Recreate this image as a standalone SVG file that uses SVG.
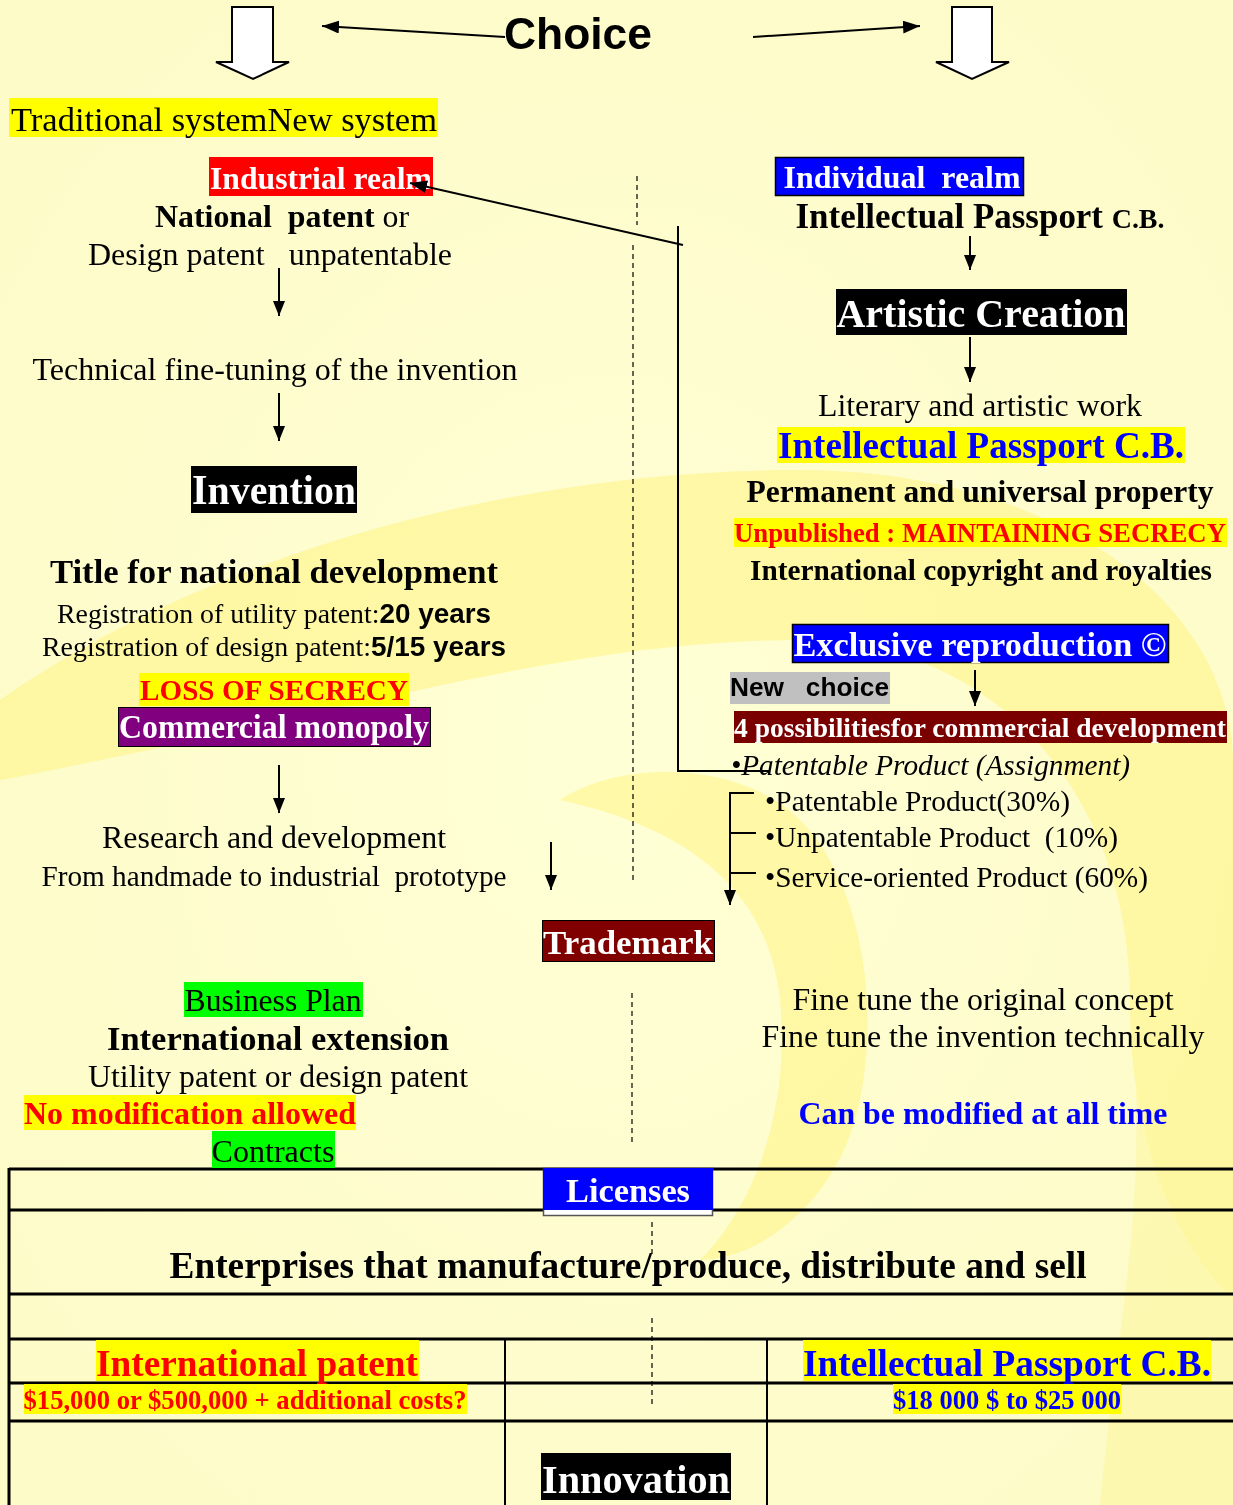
<svg xmlns="http://www.w3.org/2000/svg" width="1233" height="1505" viewBox="0 0 1233 1505">
<defs>
<marker id="ah" markerUnits="userSpaceOnUse" markerWidth="20" markerHeight="16" refX="17" refY="6.5" orient="auto"><path d="M0,0 L17,6.5 L0,13 Z" fill="#000"/></marker>
<marker id="ahs" markerUnits="userSpaceOnUse" markerWidth="18" markerHeight="14" refX="15" refY="6" orient="auto"><path d="M0,0 L15,6 L0,12 Z" fill="#000"/></marker>
<radialGradient id="bgg" cx="0.5" cy="0.5" r="0.6"><stop offset="0" stop-color="#FFFFD6"/><stop offset="1" stop-color="#FDFBC8"/></radialGradient>
</defs>
<style>
.s{font-family:"Liberation Serif","Times New Roman",serif;fill:#000}
.b{font-weight:bold}
.w{fill:#fff}
.a{font-family:"Liberation Sans",Arial,sans-serif;font-weight:bold;fill:#000}
.m{text-anchor:middle}
.ln{stroke:#000;stroke-width:2;fill:none}
.dash{stroke:#000;stroke-width:1.2;stroke-dasharray:5,4;fill:none}
.tb{stroke:#000;stroke-width:3;fill:none}
text{white-space:pre}
</style>
<rect x="0" y="0" width="1233" height="1505" fill="url(#bgg)"/>
<g id="watermark" opacity="0.5">
<path d="M0,700 C200,560 500,470 800,470 C1050,470 1230,600 1233,760 L1233,1300 C1180,1250 1130,1150 1130,1000 C1130,800 1000,640 800,640 C560,640 320,720 0,780 Z" fill="#FFF27A"/>
<path d="M1130,1000 C1130,1150 1180,1250 1233,1300 L1233,1505 L1100,1505 C1120,1300 1150,1200 1130,1000 Z" fill="#FFF27A" opacity="0.6"/>
<path d="M560,800 C620,760 740,760 800,820 C860,880 880,1000 860,1100 C840,1200 760,1260 700,1260 C760,1200 790,1100 780,1000 C770,900 700,830 560,800 Z" fill="#FFF27A"/>
</g>
<g id="table">
<line class="tb" x1="9" y1="1169" x2="1233" y2="1169"/>
<line class="tb" x1="9" y1="1210" x2="1233" y2="1210"/>
<line class="tb" x1="9" y1="1294" x2="1233" y2="1294"/>
<line class="tb" x1="9" y1="1339" x2="1233" y2="1339"/>
<line class="tb" x1="9" y1="1383" x2="1233" y2="1383"/>
<line class="tb" x1="9" y1="1421" x2="1233" y2="1421"/>
<line class="tb" x1="9" y1="1168" x2="9" y2="1505"/>
<line x1="505" y1="1339" x2="505" y2="1505" stroke="#000" stroke-width="2"/>
<line x1="767" y1="1339" x2="767" y2="1505" stroke="#000" stroke-width="2"/>
</g>
<g id="choice"><text class="a m" x="578" y="49" font-size="44" textLength="148" lengthAdjust="spacingAndGlyphs">Choice</text></g>
<g id="systems"><rect x="9" y="98" width="429" height="39" fill="#FFFF00"/><text class="s" x="11" y="131" font-size="34" textLength="426" lengthAdjust="spacingAndGlyphs">Traditional systemNew system</text></g>
<g id="industrial-realm"><rect x="209" y="157" width="224" height="39" fill="#FF0000"/><text class="s b w m" x="321" y="189" font-size="32" textLength="222" lengthAdjust="spacingAndGlyphs">Industrial realm</text></g>
<g id="national-patent"><text class="s m" x="282" y="227" font-size="32" textLength="254" lengthAdjust="spacingAndGlyphs"><tspan class="b">National  patent</tspan> or</text>
<text class="s m" x="270" y="265" font-size="32" textLength="364" lengthAdjust="spacingAndGlyphs">Design patent   unpatentable</text></g>
<g id="technical"><text class="s m" x="275" y="380" font-size="32" textLength="485" lengthAdjust="spacingAndGlyphs">Technical fine-tuning of the invention</text></g>
<g id="invention"><rect x="191" y="466" width="166" height="47" fill="#000"/><text class="s b w m" x="274" y="504" font-size="42" textLength="164" lengthAdjust="spacingAndGlyphs">Invention</text></g>
<g id="title-national"><text class="s b m" x="274" y="583" font-size="33" textLength="448" lengthAdjust="spacingAndGlyphs">Title for national development</text>
<text class="s m" x="274" y="623" font-size="28" textLength="434" lengthAdjust="spacingAndGlyphs">Registration of utility patent:<tspan class="a">20 years</tspan></text>
<text class="s m" x="274" y="656" font-size="28" textLength="464" lengthAdjust="spacingAndGlyphs">Registration of design patent:<tspan class="a">5/15 years</tspan></text></g>
<g id="loss-secrecy"><rect x="139" y="673" width="270" height="33" fill="#FFFF00"/><text class="s b m" x="274" y="700" font-size="29" textLength="268" lengthAdjust="spacingAndGlyphs" style="fill:#FF0000">LOSS OF SECRECY</text></g>
<g id="commercial-monopoly"><rect x="118.5" y="707.5" width="312" height="39" fill="#800080" stroke="#000" stroke-width="1"/><text class="s b w m" x="274" y="738" font-size="33" textLength="310" lengthAdjust="spacingAndGlyphs">Commercial monopoly</text></g>
<g id="research"><text class="s m" x="274" y="848" font-size="32" textLength="344" lengthAdjust="spacingAndGlyphs">Research and development</text>
<text class="s m" x="274" y="886" font-size="29" textLength="465" lengthAdjust="spacingAndGlyphs">From handmade to industrial  prototype</text></g>
<g id="trademark"><rect x="542.5" y="920.5" width="172" height="41" fill="#800000" stroke="#000" stroke-width="1"/><text class="s b w m" x="628" y="954" font-size="34" textLength="170" lengthAdjust="spacingAndGlyphs">Trademark</text></g>
<g id="business-plan"><rect x="184" y="982" width="179" height="35" fill="#00FF00"/><text class="s m" x="273" y="1011" font-size="32" textLength="177" lengthAdjust="spacingAndGlyphs">Business Plan</text></g>
<g id="international-extension"><text class="s b m" x="278" y="1050" font-size="34" textLength="342" lengthAdjust="spacingAndGlyphs">International extension</text>
<text class="s m" x="278" y="1087" font-size="32" textLength="380" lengthAdjust="spacingAndGlyphs">Utility patent or design patent</text></g>
<g id="no-modification"><rect x="24" y="1095" width="332" height="35" fill="#FFFF00"/><text class="s b m" x="190" y="1124" font-size="32" textLength="332" lengthAdjust="spacingAndGlyphs" style="fill:#FF0000">No modification allowed</text></g>
<g id="contracts"><rect x="212" y="1131" width="123" height="37" fill="#00FF00"/><text class="s m" x="273" y="1162" font-size="32" textLength="123" lengthAdjust="spacingAndGlyphs">Contracts</text></g>
<g id="individual-realm"><rect x="775.5" y="157.5" width="248" height="38" fill="#0000FF" stroke="#000" stroke-width="1.5"/><text class="s b w m" x="902" y="188" font-size="32" textLength="237" lengthAdjust="spacingAndGlyphs">Individual  realm</text></g>
<g id="ip-cb-1"><text class="s b m" x="980" y="228" font-size="35" textLength="369" lengthAdjust="spacingAndGlyphs">Intellectual Passport <tspan font-size="28">C.B.</tspan></text></g>
<g id="artistic-creation"><rect x="836" y="289" width="291" height="46" fill="#000"/><text class="s b w m" x="981" y="327" font-size="40" textLength="289" lengthAdjust="spacingAndGlyphs">Artistic Creation</text></g>
<g id="literary"><text class="s m" x="980" y="416" font-size="32" textLength="324" lengthAdjust="spacingAndGlyphs">Literary and artistic work</text></g>
<g id="ip-cb-2"><rect x="777" y="427" width="408" height="36" fill="#FFFF00"/><text class="s b m" x="981" y="458" font-size="37" textLength="406" lengthAdjust="spacingAndGlyphs" style="fill:#0000FF">Intellectual Passport C.B.</text></g>
<g id="permanent"><text class="s b m" x="980" y="502" font-size="31" textLength="467" lengthAdjust="spacingAndGlyphs">Permanent and universal property</text></g>
<g id="unpublished"><rect x="734" y="518" width="493" height="29" fill="#FFFF00"/><text class="s b m" x="980" y="542" font-size="27" textLength="492" lengthAdjust="spacingAndGlyphs" style="fill:#FF0000">Unpublished : MAINTAINING SECRECY</text></g>
<g id="copyright"><text class="s b m" x="981" y="580" font-size="29" textLength="462" lengthAdjust="spacingAndGlyphs">International copyright and royalties</text></g>
<g id="exclusive"><rect x="792.5" y="624.5" width="376" height="38" fill="#0000FF" stroke="#000" stroke-width="1.5"/><text class="s b w m" x="980" y="656" font-size="34" textLength="373" lengthAdjust="spacingAndGlyphs">Exclusive reproduction ©</text></g>
<g id="new-choice"><rect x="730" y="672" width="160" height="32" fill="#C0C0C0"/><text class="a" x="730" y="696" font-size="26" textLength="159" lengthAdjust="spacingAndGlyphs">New   choice</text></g>
<g id="possibilities"><rect x="734" y="711" width="493" height="32" fill="#7A0000"/><text class="s b w m" x="980" y="737" font-size="27" textLength="492" lengthAdjust="spacingAndGlyphs">4 possibilitiesfor commercial development</text></g>
<g id="patentable-assignment"><text class="s" x="731" y="775" font-size="29" font-style="italic" textLength="399" lengthAdjust="spacingAndGlyphs">•Patentable Product (Assignment)</text></g>
<g id="products"><text class="s" x="765" y="811" font-size="29" textLength="305" lengthAdjust="spacingAndGlyphs">•Patentable Product(30%)</text>
<text class="s" x="765" y="847" font-size="29" textLength="353" lengthAdjust="spacingAndGlyphs">•Unpatentable Product  (10%)</text>
<text class="s" x="765" y="887" font-size="29" textLength="383" lengthAdjust="spacingAndGlyphs">•Service-oriented Product (60%)</text></g>
<g id="fine-tune"><text class="s m" x="983" y="1010" font-size="32" textLength="381" lengthAdjust="spacingAndGlyphs">Fine tune the original concept</text>
<text class="s m" x="983" y="1047" font-size="32" textLength="443" lengthAdjust="spacingAndGlyphs">Fine tune the invention technically</text></g>
<g id="can-be-modified"><text class="s b m" x="983" y="1124" font-size="32" textLength="369" lengthAdjust="spacingAndGlyphs" style="fill:#0000FF">Can be modified at all time</text></g>
<g id="licenses"><rect x="543.5" y="1168.5" width="169" height="47" fill="#fff" stroke="#555" stroke-width="1.5"/><rect x="543" y="1168" width="170" height="42" fill="#0000FF"/><text class="s b w m" x="628" y="1202" font-size="34" textLength="124" lengthAdjust="spacingAndGlyphs">Licenses</text></g>
<g id="enterprises"><text class="s b m" x="628" y="1278" font-size="37" textLength="917" lengthAdjust="spacingAndGlyphs">Enterprises that manufacture/produce, distribute and sell</text></g>
<g id="international-patent"><rect x="96" y="1340" width="323" height="41" fill="#FFFF00"/><text class="s b m" x="257" y="1376" font-size="37" textLength="322" lengthAdjust="spacingAndGlyphs" style="fill:#FF0000">International patent</text>
<rect x="24" y="1384" width="443" height="30" fill="#FFFF00"/><text class="s b m" x="245" y="1409" font-size="27" textLength="443" lengthAdjust="spacingAndGlyphs" style="fill:#FF0000">$15,000 or $500,000 + additional costs?</text></g>
<g id="ip-cb-3"><rect x="803" y="1340" width="408" height="41" fill="#FFFF00"/><text class="s b m" x="1007" y="1376" font-size="37" textLength="408" lengthAdjust="spacingAndGlyphs" style="fill:#0000FF">Intellectual Passport C.B.</text>
<rect x="893" y="1384" width="228" height="30" fill="#FFFF00"/><text class="s b m" x="1007" y="1409" font-size="27" textLength="228" lengthAdjust="spacingAndGlyphs" style="fill:#0000FF">$18 000 $ to $25 000</text></g>
<g id="innovation"><rect x="541" y="1453" width="190" height="47" fill="#000"/><text class="s b w m" x="636" y="1493" font-size="40" textLength="188" lengthAdjust="spacingAndGlyphs">Innovation</text></g>
<g id="connectors">
<path class="ln" d="M232,7 H273 V62 H289 L253,79 L216,62 H232 Z" style="fill:#fff"/>
<path class="ln" d="M952,7 H992 V62 H1009 L972,79 L936,62 H952 Z" style="fill:#fff"/>
<line class="ln" x1="505" y1="37" x2="322" y2="26" marker-end="url(#ah)"/>
<line class="ln" x1="753" y1="37" x2="920" y2="26" marker-end="url(#ah)"/>
<line class="ln" x1="279" y1="268" x2="279" y2="316" marker-end="url(#ahs)"/>
<line class="ln" x1="279" y1="393" x2="279" y2="441" marker-end="url(#ahs)"/>
<line class="ln" x1="279" y1="765" x2="279" y2="813" marker-end="url(#ahs)"/>
<line class="ln" x1="551" y1="842" x2="551" y2="890" marker-end="url(#ahs)"/>
<line class="ln" x1="970" y1="236" x2="970" y2="270" marker-end="url(#ahs)"/>
<line class="ln" x1="970" y1="337" x2="970" y2="382" marker-end="url(#ahs)"/>
<line class="ln" x1="975" y1="670" x2="975" y2="706" marker-end="url(#ahs)"/>
<line class="ln" x1="683" y1="245" x2="410" y2="183" marker-end="url(#ah)"/>
<path class="ln" d="M678,226 V771 H770"/>
<path class="ln" d="M754,793 H730 V905" marker-end="url(#ahs)"/>
<line class="ln" x1="730" y1="833" x2="756" y2="833"/>
<line class="ln" x1="730" y1="873" x2="756" y2="873"/>
<line class="dash" x1="637" y1="176" x2="637" y2="225"/>
<line class="dash" x1="633" y1="245" x2="633" y2="884"/>
<line class="dash" x1="632" y1="993" x2="632" y2="1145"/>
<line class="dash" x1="652" y1="1222" x2="652" y2="1256"/>
<line class="dash" x1="652" y1="1318" x2="652" y2="1408"/>
</g>
</svg>
